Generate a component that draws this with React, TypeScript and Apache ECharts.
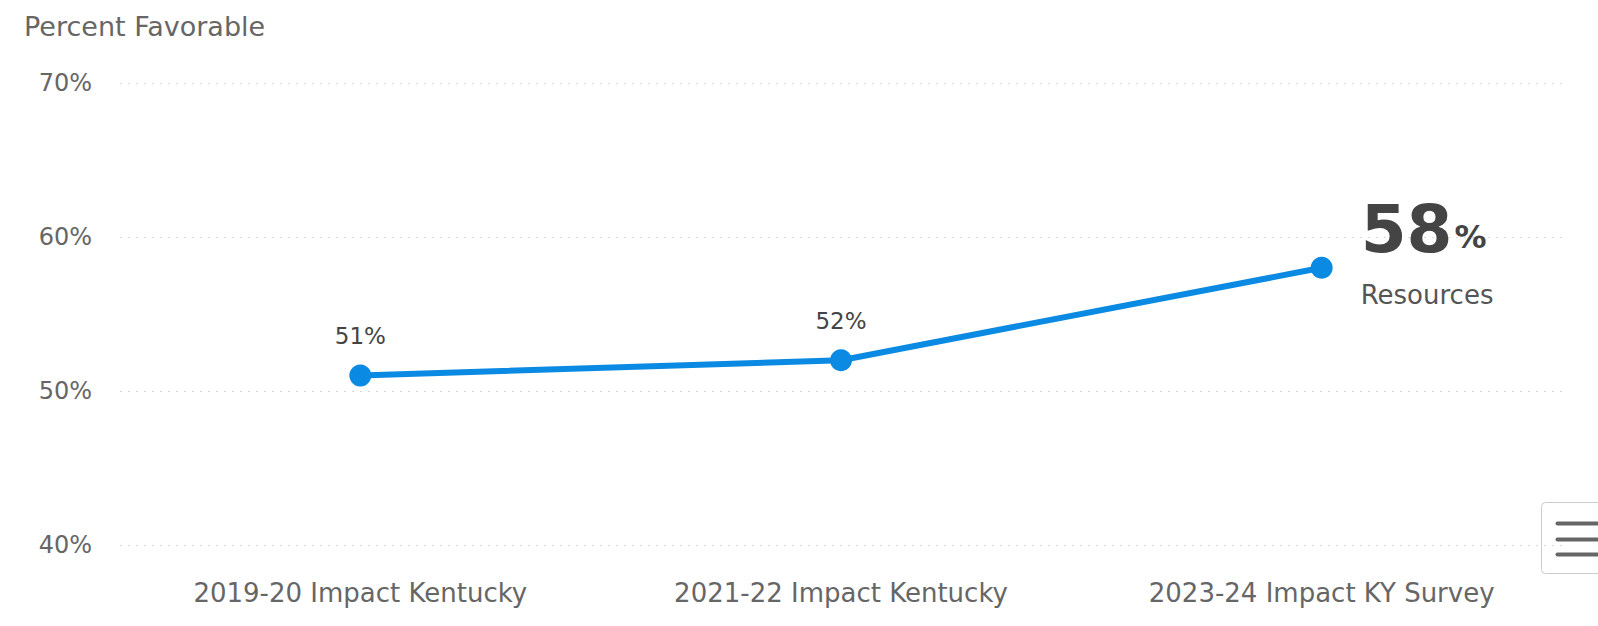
import React, { useEffect, useRef } from "react";
import * as echarts from "echarts";

const categories = ["2019-20 Impact Kentucky", "2021-22 Impact Kentucky", "2023-24 Impact KY Survey"];
const values = [51, 52, 58];
const seriesName = "Resources";
const yTicks = { min: 40, max: 70, interval: 10 };

const FONT = "DejaVu Sans";

export default function App() {
  const ref = useRef<HTMLDivElement>(null);
  useEffect(() => {
    if (!ref.current) return;
    const chart = echarts.init(ref.current, null, { renderer: "svg" });
    const last = values.length - 1;
    chart.setOption({
      animation: false,
      textStyle: { fontFamily: FONT },
      title: {
        text: "Percent Favorable",
        left: 19,
        top: 8,
        textStyle: { fontFamily: FONT, fontSize: 27, fontWeight: "normal", color: "#666" },
      },
      grid: { left: 120, right: 36, top: 83, bottom: 81 },
      xAxis: {
        type: "category",
        data: categories,
        boundaryGap: true,
        axisLine: { show: false },
        axisTick: { show: false },
        axisLabel: { color: "#666", fontSize: 26, margin: 35, fontFamily: FONT },
      },
      yAxis: {
        type: "value",
        min: yTicks.min,
        max: yTicks.max,
        interval: yTicks.interval,
        axisLine: { show: false },
        axisTick: { show: false },
        axisLabel: { formatter: "{value}%", color: "#666", fontSize: 24, margin: 28, fontFamily: FONT },
        splitLine: { lineStyle: { color: "#d8d8d8", type: [2, 6], width: 1 } },
      },
      series: [
        {
          name: seriesName,
          type: "line",
          data: values.map((v, i) =>
            i === last
              ? {
                  value: v,
                  label: {
                    show: true,
                    position: "right",
                    distance: 28,
                    offset: [0, -22],
                    formatter: `{big|${v}}{pct|%}\n{name|${seriesName}}`,
                    rich: {
                      big: { fontSize: 66, fontWeight: "bold", color: "#444", fontFamily: FONT, lineHeight: 98, verticalAlign: "bottom", padding: [0, 0, 10, 0] },
                      pct: { fontSize: 32, fontWeight: "bold", color: "#444", fontFamily: FONT, lineHeight: 98, verticalAlign: "bottom", padding: [0, 0, 20, 2] },
                      name: { fontSize: 26, color: "#555", fontFamily: FONT, lineHeight: 44 },
                    },
                  },
                }
              : v
          ),
          symbol: "circle",
          symbolSize: 22,
          lineStyle: { color: "#0a8ae2", width: 6 },
          itemStyle: { color: "#0a8ae2" },
          label: {
            show: true,
            position: "top",
            distance: 17,
            formatter: "{c}%",
            fontSize: 23,
            color: "#444",
            fontFamily: FONT,
          },
        },
      ],
      graphic: [
        {
          type: "group",
          left: 1541,
          top: 502,
          children: [
            { type: "rect", shape: { x: 0, y: 0, width: 80, height: 71, r: 4 }, style: { fill: "#fff", stroke: "#ccc", lineWidth: 1 } },
            { type: "line", shape: { x1: 16, y1: 21, x2: 70, y2: 21 }, style: { stroke: "#666", lineWidth: 4, lineCap: "round" } },
            { type: "line", shape: { x1: 16, y1: 37, x2: 70, y2: 37 }, style: { stroke: "#666", lineWidth: 4, lineCap: "round" } },
            { type: "line", shape: { x1: 16, y1: 52, x2: 70, y2: 52 }, style: { stroke: "#666", lineWidth: 4, lineCap: "round" } },
          ],
        },
      ],
    });
    return () => chart.dispose();
  }, []);
  return <div ref={ref} style={{ position: "fixed", left: 0, top: 0, width: 1598, height: 626, background: "#fff" }} />;
}
